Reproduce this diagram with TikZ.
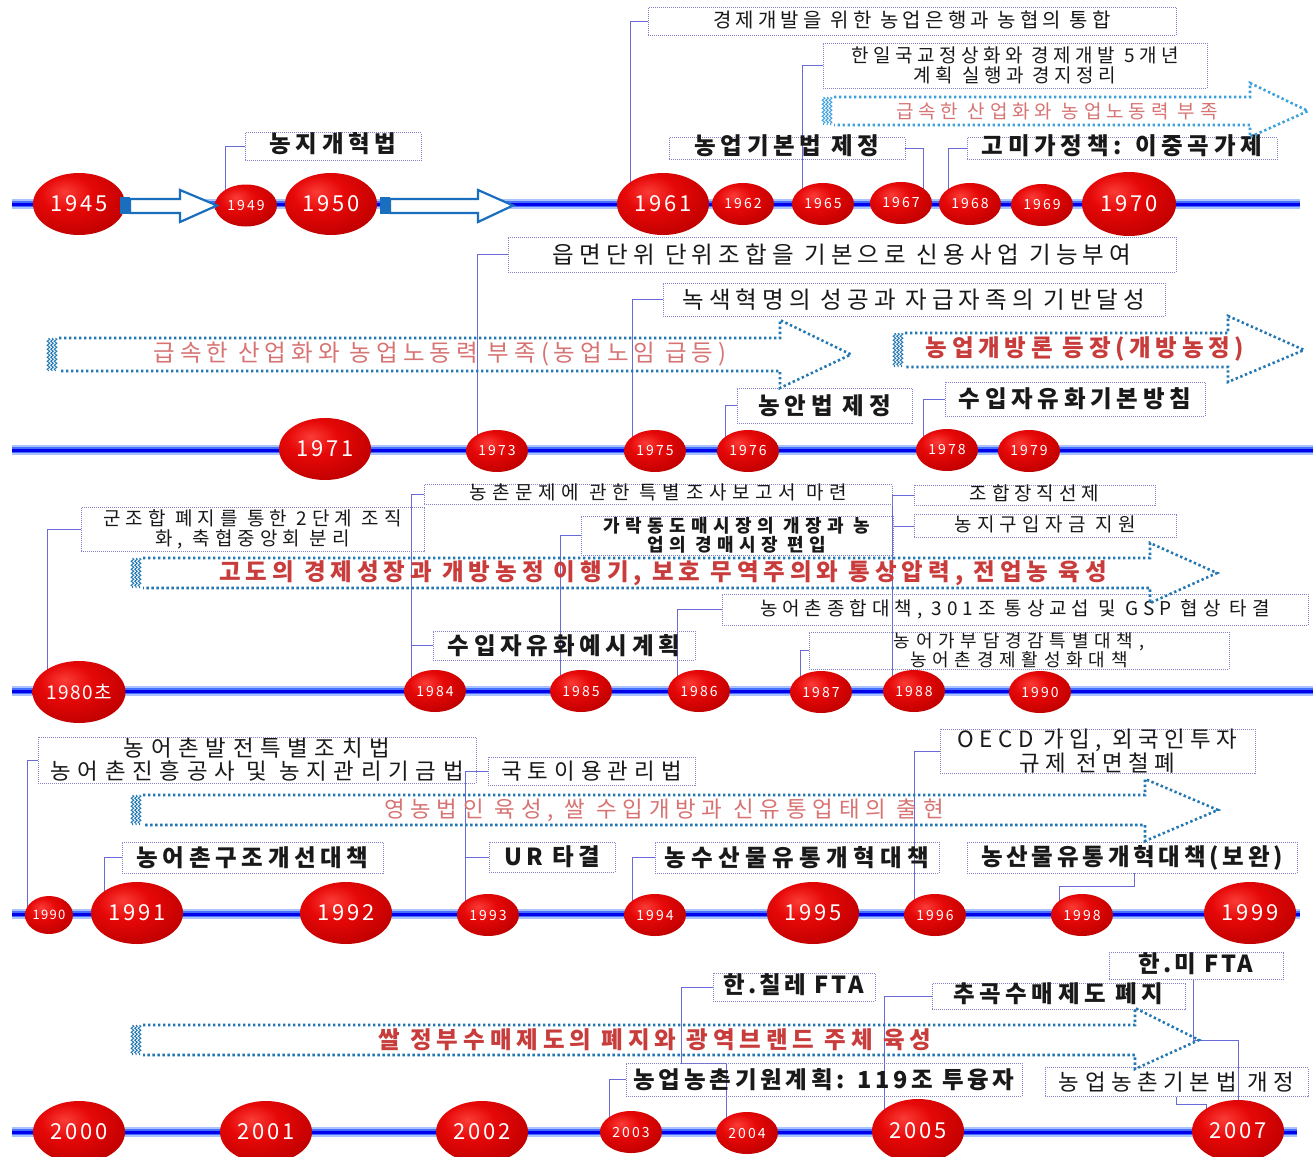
\documentclass[tikz,border=0pt]{standalone}
\usepackage{fontspec}
\setmainfont{Noto Sans CJK KR}
\usetikzlibrary{shapes.geometric,decorations.pathmorphing}
\pgfdeclarelayer{bg}
\pgfsetlayers{bg,main}
\definecolor{rbA}{RGB}{250,60,55}
\definecolor{rbB}{RGB}{230,8,8}
\definecolor{rbC}{RGB}{195,0,0}
\definecolor{rbD}{RGB}{125,0,12}
\definecolor{tlcA}{RGB}{170,195,255}
\definecolor{tlcB}{RGB}{70,110,255}
\definecolor{tlcC}{RGB}{0,0,235}
\definecolor{boxc}{RGB}{130,130,205}
\definecolor{connc}{RGB}{105,105,215}
\definecolor{arrc}{RGB}{35,120,180}
\definecolor{arrcl}{RGB}{60,160,220}
\definecolor{redT}{RGB}{200,60,60}
\definecolor{redL}{RGB}{215,115,115}
\definecolor{holc}{RGB}{25,110,190}
\definecolor{txt}{RGB}{25,25,25}
\pgfdeclareradialshading{redball}{\pgfpoint{-8bp}{10bp}}{color(0bp)=(rbA); color(14bp)=(rbB); color(32bp)=(rbC); color(52bp)=(rbD); color(100bp)=(rbD)}
\newcommand{\kf}[3]{\fontsize{#1}{#2}\selectfont\addfontfeature{LetterSpace=#3}}
\newcommand{\dotarrow}[8]{%
  \draw[darr, draw=#8] (#1+12,#2) -- (#4,#2) -- (#4,#5) -- (#7,{(#2+#3)/2}) -- (#4,#6) -- (#4,#3) -- (#1+12,#3);
  \foreach \dx in {1.5,5,8.5} {\draw[wav, draw=#8] (#1+\dx,#2) -- (#1+\dx,#3);}
}
\tikzset{
  yrbig/.style={ellipse, shade, shading=redball, inner sep=0pt, minimum width=92pt, minimum height=62pt, text=white, font={\kf{22}{24}{12}}},
  yrsmall/.style={yrbig, minimum width=62pt, minimum height=42pt, font={\kf{14}{16}{15}}},
  yrtiny/.style={yrbig, minimum width=48pt, minimum height=38pt, font={\kf{13}{15}{10}}},
  lbox/.style={draw=boxc, line width=0.8pt, dash pattern=on 1pt off 1pt, inner sep=0pt, align=center, text=txt},
  onel/.style={text height=15pt, text depth=3pt},
  conn/.style={draw=connc, line width=0.8pt},
  darr/.style={line width=2.6pt, dash pattern=on 2.4pt off 2.6pt},
  wav/.style={line width=1pt, decorate, decoration={snake, amplitude=1.3pt, segment length=4pt}},
  hol/.style={draw=holc, line width=2.2pt, fill=white, line join=miter},
  tlineA/.style={draw=tlcA, line width=10pt},
  tlineB/.style={draw=tlcB, line width=6pt},
  tlineC/.style={draw=tlcC, line width=3pt},
  ttb/.style={font={\bfseries\kf{23.5}{26}{20}}},
}
\begin{document}
\begin{tikzpicture}[x=1pt,y=-1pt]
\useasboundingbox (0,0) rectangle (1313,1156);
\begin{pgfonlayer}{bg}
  \fill[white] (0,0) rectangle (1313,1156);
  \foreach \ya/\xb in {204/1300, 450/1313, 691/1313, 914/1300, 1132/1297} {
    \draw[tlineA] (12,\ya) -- (\xb,\ya);
    \draw[tlineB] (12,\ya) -- (\xb,\ya);
    \draw[tlineC] (12,\ya) -- (\xb,\ya);
  }
\end{pgfonlayer}

% ---------- Row 1 ----------
\node[yrbig] (c1945) at (79,204) {1945};
\node[yrsmall] (c1949) at (246,205.5) {1949};
\node[yrbig] (c1950) at (331,204) {1950};
\node[yrbig] (c1961) at (663,204) {1961};
\node[yrsmall] (c1962) at (743,204) {1962};
\node[yrsmall] (c1965) at (823,204) {1965};
\node[yrsmall] (c1967) at (901,203) {1967};
\node[yrsmall] (c1968) at (970,204) {1968};
\node[yrsmall] (c1969) at (1042,205) {1969};
\node[yrbig, minimum width=94pt, minimum height=64pt] (c1970) at (1129,204) {1970};

\fill[holc] (120,197) rectangle (130,214);
\draw[hol] (130,199) -- (180,199) -- (180,190) -- (217,205.5) -- (180,222) -- (180,213) -- (130,213) -- cycle;
\fill[holc] (380,197) rectangle (390,214);
\draw[hol] (390,199) -- (478,199) -- (478,190) -- (513,205.5) -- (478,222) -- (478,213) -- (390,213) -- cycle;

\node[lbox, ttb, onel, minimum width=176pt, minimum height=28pt] (b11) at (333,146.5) {농지개혁법};
\node[lbox, onel, font={\kf{20}{22}{21}}, minimum width=528pt, minimum height=28pt] (b12) at (912,21.5) {경제개발을 위한 농업은행과 농협의 통합};
\node[lbox, font={\kf{19}{20}{24}}, minimum width=384pt, minimum height=45pt] (b13) at (1015,65.5) {한일국교정상화와 경제개발 5개년\\계획 실행과 경지정리};
\node[lbox, ttb, text height=14pt, text depth=2pt, minimum width=236pt, minimum height=22pt] (b14) at (787,148.5) {농업기본법 제정};
\node[lbox, ttb, text height=14pt, text depth=2pt, minimum width=310pt, minimum height=22pt] (b15) at (1122,148.5) {고미가정책: 이중곡가제};
\dotarrow{822}{97}{125}{1250}{83}{137}{1308}{arrcl}
\node[font={\kf{19}{21}{26}}, text=redL] (a1) at (1057,111) {급속한 산업화와 농업노동력 부족};

% ---------- Row 2 ----------
\node[yrbig] (c1971) at (325,449) {1971};
\node[yrsmall] (c1973) at (497,451) {1973};
\node[yrsmall] (c1975) at (655,451) {1975};
\node[yrsmall] (c1976) at (748,451) {1976};
\node[yrsmall] (c1978) at (947,450) {1978};
\node[yrsmall] (c1979) at (1029,451) {1979};

\node[lbox, font={\kf{23.5}{26}{22}}, minimum width=668pt, minimum height=35pt] (b21) at (842,254.5) {읍면단위 단위조합을 기본으로 신용사업 기능부여};
\node[lbox, font={\kf{23.5}{26}{21}}, minimum width=502pt, minimum height=33pt] (b22) at (914,299.5) {녹색혁명의 성공과 자급자족의 기반달성};
\node[lbox, ttb, minimum width=175pt, minimum height=35pt] (b23) at (824.5,405.5) {농안법 제정};
\node[lbox, ttb, minimum width=260pt, minimum height=34pt] (b24) at (1075,399) {수입자유화기본방침};
\dotarrow{47}{338}{371}{780}{320}{388}{851}{arrc}
\node[font={\kf{23.5}{26}{21}}, text=redL] (a21) at (440,354) {급속한 산업화와 농업노동력 부족(농업노임 급등)};
\dotarrow{893}{333}{367}{1228}{316}{382}{1304}{arrc}
\node[font={\bfseries\kf{23.5}{26}{20}}, text=redT] (a22) at (1085,349) {농업개방론 등장(개방농정)};

% ---------- Row 3 ----------
\node[yrbig, font={\kf{19}{20}{8}}] (c1980) at (79,692) {1980초};
\node[yrsmall] (c1984) at (435,691) {1984};
\node[yrsmall] (c1985) at (581,691) {1985};
\node[yrsmall] (c1986) at (699,691) {1986};
\node[yrsmall] (c1987) at (821,692) {1987};
\node[yrsmall] (c1988) at (914,691) {1988};
\node[yrsmall] (c1990a) at (1040,692) {1990};

\node[lbox, font={\kf{19}{20}{27}}, minimum width=343pt, minimum height=44pt] (b31) at (252.5,529.5) {군조합 폐지를 통한 2단계 조직\\화, 축협중앙회 분리};
\node[lbox, font={\kf{19}{20}{30}}, text height=13pt, text depth=3pt, minimum width=468pt, minimum height=20pt] (b32) at (658,494.5) {농촌문제에 관한 특별조사보고서 마련};
\node[lbox, font={\bfseries\kf{18}{19}{30}}, minimum width=312pt, minimum height=39pt] (b33) at (737,535.5) {가락동도매시장의 개장과 농\\업의 경매시장 편입};
\node[lbox, font={\kf{19}{20}{26}}, text height=13pt, text depth=3pt, minimum width=241pt, minimum height=20pt] (b34) at (1034.5,495) {조합장직선제};
\node[lbox, font={\kf{19}{20}{28}}, text height=14pt, text depth=4pt, minimum width=262pt, minimum height=23pt] (b35) at (1045,526) {농지구입자금 지원};
\node[lbox, font={\kf{19}{20}{26}}, minimum width=586pt, minimum height=31pt] (b36) at (1015,609.5) {농어촌종합대책, 301조 통상교섭 및 GSP 협상 타결};
\node[lbox, ttb, minimum width=262pt, minimum height=29pt] (b37) at (564,645.5) {수입자유화예시계획};
\node[lbox, font={\kf{18}{18}{32}}, minimum width=420pt, minimum height=37pt] (b38) at (1019,650.5) {농어가부담경감특별대책,\\농어촌경제활성화대책};
\dotarrow{131}{558}{588}{1150}{543}{603}{1217}{arrc}
\node[font={\bfseries\kf{23.5}{26}{21}}, text=redT] (a3) at (663,573) {고도의 경제성장과 개방농정 이행기, 보호 무역주의와 통상압력, 전업농 육성};

% ---------- Row 4 ----------
\node[yrtiny] (c1990b) at (49,915) {1990};
\node[yrbig] (c1991) at (137,913) {1991};
\node[yrbig] (c1992) at (346,913) {1992};
\node[yrsmall] (c1993) at (488,915) {1993};
\node[yrsmall] (c1994) at (655,915) {1994};
\node[yrbig] (c1995) at (813,913) {1995};
\node[yrsmall] (c1996) at (935,915) {1996};
\node[yrsmall] (c1998) at (1082,915) {1998};
\node[yrbig] (c1999) at (1250,913) {1999};

\node[lbox, font={\kf{22.4}{23}{30}}, minimum width=438pt, minimum height=46pt] (b41) at (257,760) {농어촌발전특별조치법\\농어촌진흥공사 및 농지관리기금법};
\node[lbox, font={\kf{22.4}{24}{27}}, minimum width=207pt, minimum height=28pt] (b42) at (591.5,771) {국토이용관리법};
\node[lbox, font={\bfseries\kf{23.5}{26}{18}}, minimum width=126pt, minimum height=30pt] (b43) at (552,857) {UR 타결};
\node[lbox, ttb, minimum width=261pt, minimum height=31pt] (b44) at (252.5,857.5) {농어촌구조개선대책};
\node[lbox, font={\bfseries\kf{23.5}{26}{23}}, minimum width=284pt, minimum height=31pt] (b45) at (797,857.5) {농수산물유통개혁대책};
\node[lbox, font={\kf{22.4}{21}{24}}, minimum width=315pt, minimum height=42pt] (b46) at (1097.5,751) {OECD 가입, 외국인투자\\규제 전면철폐};
\node[lbox, font={\bfseries\kf{23.5}{26}{16}}, minimum width=330pt, minimum height=31pt] (b47) at (1132,857.5) {농산물유통개혁대책(보완)};
\dotarrow{131}{795}{825}{1145}{779}{841}{1218}{arrc}
\node[font={\kf{22.4}{24}{26}}, text=redL] (a4) at (664,810) {영농법인 육성, 쌀 수입개방과 신유통업태의 출현};

% ---------- Row 5 ----------
\node[yrbig] (c2000) at (79,1132) {2000};
\node[yrbig] (c2001) at (266,1132) {2001};
\node[yrbig] (c2002) at (482,1132) {2002};
\node[yrsmall] (c2003) at (631,1132) {2003};
\node[yrsmall] (c2004) at (747,1133) {2004};
\node[yrbig, minimum height=64pt] (c2005) at (918,1131) {2005};
\node[yrbig] (c2007) at (1238,1131) {2007};

\node[lbox, font={\bfseries\kf{23.5}{26}{13}}, onel, minimum width=162pt, minimum height=28pt] (b51) at (794,987) {한.칠레 FTA};
\node[lbox, font={\bfseries\kf{23.5}{26}{19}}, onel, minimum width=253pt, minimum height=26pt] (b52) at (1058.5,996.5) {추곡수매제도 폐지};
\node[lbox, font={\bfseries\kf{23.5}{26}{12}}, onel, minimum width=174pt, minimum height=27pt] (b53) at (1196,966) {한.미 FTA};
\node[lbox, font={\bfseries\kf{23.5}{26}{16}}, minimum width=396pt, minimum height=33pt] (b54) at (824,1079.5) {농업농촌기원계획: 119조 투융자};
\node[lbox, font={\kf{22.4}{24}{25}}, minimum width=263pt, minimum height=29pt] (b55) at (1176.5,1082) {농업농촌기본법 개정};
\dotarrow{131}{1025}{1055}{1135}{1008}{1069}{1199}{arrc}
\node[font={\bfseries\kf{23.5}{26}{21}}, text=redT] (a5) at (655,1040) {쌀 정부수매제도의 폐지와 광역브랜드 주체 육성};

% ---------- connectors ----------
\begin{pgfonlayer}{bg}
  \draw[conn] ([xshift=-21pt]c1949.center) |- (b11.west);
  \draw[conn] ([xshift=-33pt]c1961.center) |- (b12.west);
  \draw[conn] ([xshift=-21pt]c1965.center) |- (b13.west);
  \draw[conn] (b14.east) -| ([xshift=22pt]c1967.center);
  \draw[conn] (b15.west) -| ([xshift=-22pt]c1968.center);

  \draw[conn] ([xshift=-20pt]c1973.center) |- (b21.west);
  \draw[conn] ([xshift=-23pt]c1975.center) |- (b22.west);
  \draw[conn] ([xshift=-23pt]c1976.center) |- (b23.west);
  \draw[conn] ([xshift=-24pt]c1978.center) |- (b24.west);

  \draw[conn] ([xshift=-32pt]c1980.center) |- (b31.west);
  \draw[conn] ([xshift=-24pt]c1984.center) |- (b32.west);
  \draw[conn] ([xshift=-24pt]c1984.center) |- (b37.west);
  \draw[conn] ([xshift=-21pt]c1985.center) |- (b33.west);
  \draw[conn] ([xshift=-22pt]c1988.center) |- (b34.west);
  \draw[conn] ([xshift=-22pt]c1988.center) |- (b35.west);
  \draw[conn] ([xshift=-22pt]c1986.center) |- (b36.west);
  \draw[conn] ([xshift=-21pt]c1987.center) |- (b38.west);

  \draw[conn] ([xshift=-22pt]c1990b.center) |- (b41.west);
  \draw[conn] ([xshift=-23pt]c1993.center) |- (b42.west);
  \draw[conn] ([xshift=-23pt]c1993.center) |- (b43.west);
  \draw[conn] ([xshift=-33pt]c1991.center) |- (b44.west);
  \draw[conn] ([xshift=-23pt]c1994.center) |- (b45.west);
  \draw[conn] ([xshift=-21pt]c1996.center) |- (b46.west);
  \draw[conn] ([xshift=2pt]b47.south) -- ++(0,13) -| ([xshift=-23pt]c1998.center);

  \draw[conn] ([xshift=-22pt]c2003.center) |- (b54.west);
  \draw[conn] ([xshift=-21pt]c2004.center) |- (681,1063) |- (b51.west);
  \draw[conn] ([xshift=-34pt]c2005.center) |- (b52.west);
  \draw[conn] ([xshift=-3pt]b53.south) |- (1238,1040) -- (c2007.center);
  \draw[conn] (b55.south) -- ++(0,7) -| ([xshift=-32pt]c2007.center);
\end{pgfonlayer}
\end{tikzpicture}
\end{document}
